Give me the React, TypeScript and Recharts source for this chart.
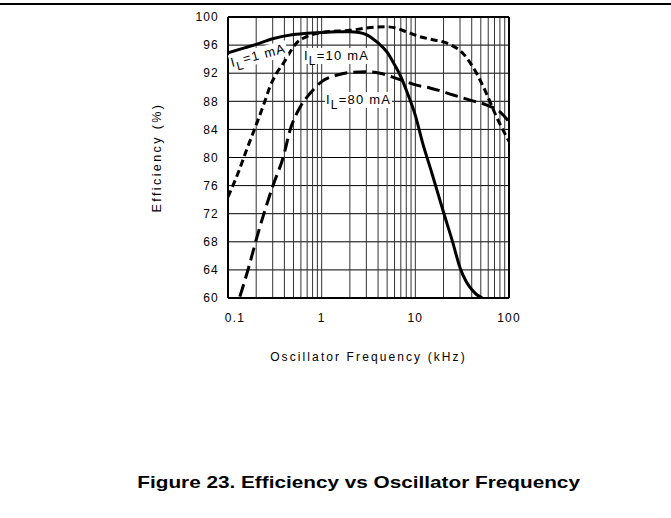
import React from 'react'
import { LineChart, Line, XAxis, YAxis, ReferenceLine } from 'recharts'

// efficiency (%) vs oscillator frequency (kHz)
const FREQ_1MA = [0.1, 0.15, 0.2, 0.3, 0.5, 0.7, 1, 1.5, 2, 2.5, 3, 4, 5, 6, 7, 8, 10, 12, 15, 20, 25, 30, 35, 40, 45, 52]
const EFF_1MA = [94.9, 95.6, 96.1, 96.9, 97.5, 97.7, 97.8, 97.9, 97.9, 97.8, 97.5, 96.3, 95.0, 93.2, 91.5, 89.6, 86.0, 82.0, 77.8, 72.2, 68.0, 64.3, 62.3, 61.2, 60.5, 60]

const FREQ_10MA = [0.1, 0.13, 0.158, 0.194, 0.24, 0.281, 0.33, 0.39, 0.45, 0.54, 0.69, 0.85, 1, 1.5, 2, 3.3, 5, 6.3, 8, 11.2, 15, 21.5, 32.3, 45, 57, 73.5, 100]
const EFF_10MA = [74.4, 78.0, 81.1, 84.2, 87.5, 90.1, 92.0, 93.4, 94.8, 96.3, 97.2, 97.6, 97.8, 98.0, 98.1, 98.5, 98.6, 98.4, 97.9, 97.2, 96.8, 96.3, 94.8, 92.0, 89.2, 85.8, 82.3]

const FREQ_80MA = [0.134, 0.165, 0.202, 0.248, 0.304, 0.39, 0.46, 0.59, 0.75, 1, 1.44, 2, 3, 4.2, 6.8, 10.3, 14.3, 25.4, 40, 57, 80, 100]
const EFF_80MA = [60.2, 64.2, 68.5, 72.5, 76.1, 80.1, 83.9, 87.2, 89.1, 90.8, 91.7, 92.1, 92.2, 92.0, 91.1, 90.3, 89.9, 88.9, 88.1, 87.5, 86.5, 85.1]

const X_TICKS = [0.1, 1, 10, 100]
const Y_TICKS = [60, 64, 68, 72, 76, 80, 84, 88, 92, 96, 100]
const X_GRID = [0.2, 0.3, 0.4, 0.5, 0.6, 0.7, 0.8, 0.9, 1, 2, 3, 4, 5, 6, 7, 8, 9, 10, 20, 30, 40, 50, 60, 70, 80, 90]

const toRows = (fs: number[], es: number[]) => fs.map((f, i) => ({ f, e: es[i] }))

const AXIS_FONT = '"Liberation Sans", Arial, sans-serif'
const tickStyle = { fill: '#000', fontSize: 12, fontFamily: AXIS_FONT, letterSpacing: 1.2 }

function XTick({ x, y, payload }: any) {
  // the 0.1 label sits a bit right of the axis corner
  const dx = payload.value === 0.1 ? 7 : 0
  return (
    <text x={x + dx} y={y} dy="0.71em" textAnchor="middle" {...tickStyle}>
      {String(payload.value)}
    </text>
  )
}

function CurveLabel({ n, style }: { n: string; style: React.CSSProperties }) {
  return (
    <div
      style={{
        position: 'absolute',
        background: '#fff',
        fontFamily: AXIS_FONT,
        fontSize: 13,
        letterSpacing: 1.2,
        lineHeight: '16px',
        padding: '0 1px',
        whiteSpace: 'nowrap',
        ...style,
      }}
    >
      I<sub style={{ fontSize: 12, verticalAlign: '-5px', lineHeight: 0 }}>L</sub>={n} mA
    </div>
  )
}

export default function App() {
  return (
    <div style={{ position: 'absolute', left: 0, top: 0, width: 671, height: 518, background: '#fff' }}>
      <div style={{ position: 'absolute', left: 0, top: 3, width: 671, height: 2, background: '#000' }} />

      <LineChart width={671} height={370} margin={{ top: 17, right: 162, left: 148, bottom: 2 }}>
        <XAxis
          type="number"
          dataKey="f"
          scale="log"
          domain={[0.1, 100]}
          ticks={X_TICKS}
          allowDataOverflow
          axisLine={false}
          tickLine={false}
          tickSize={0}
          tickMargin={15}
          height={70}
          tick={<XTick />}
          label={{
            value: 'Oscillator Frequency (kHz)',
            position: 'insideBottom',
            offset: 7,
            style: { ...tickStyle, letterSpacing: 2.1 },
          }}
        />
        <YAxis
          type="number"
          dataKey="e"
          domain={[60, 100]}
          ticks={Y_TICKS}
          allowDataOverflow
          axisLine={false}
          tickLine={false}
          tickSize={0}
          tickMargin={9}
          width={80}
          tick={tickStyle}
          label={{
            value: 'Efficiency  (%)',
            angle: -90,
            position: 'insideLeft',
            offset: 9,
            style: { ...tickStyle, fontSize: 12.5, letterSpacing: 2.4, textAnchor: 'middle' },
          }}
        />

        {Y_TICKS.map((v) => (
          <ReferenceLine key={'h' + v} y={v} stroke="#000" strokeWidth={1} />
        ))}
        {X_GRID.map((v) => (
          <ReferenceLine key={'v' + v} x={v} stroke="#333" strokeWidth={1} />
        ))}
        <ReferenceLine x={0.1} stroke="#000" strokeWidth={2} />
        <ReferenceLine x={100} stroke="#000" strokeWidth={2} />
        <ReferenceLine y={60} stroke="#000" strokeWidth={2} />
        <ReferenceLine y={100} stroke="#000" strokeWidth={2} />

        <Line
          data={toRows(FREQ_10MA, EFF_10MA)}
          dataKey="e"
          type="monotone"
          stroke="#000"
          strokeWidth={3}
          strokeDasharray="7 4"
          dot={false}
          isAnimationActive={false}
        />
        <Line
          data={toRows(FREQ_80MA, EFF_80MA)}
          dataKey="e"
          type="monotone"
          stroke="#000"
          strokeWidth={3}
          strokeDasharray="13 6"
          dot={false}
          isAnimationActive={false}
        />
        <Line
          data={toRows(FREQ_1MA, EFF_1MA)}
          dataKey="e"
          type="monotone"
          stroke="#000"
          strokeWidth={3}
          dot={false}
          isAnimationActive={false}
        />
      </LineChart>

      <CurveLabel n="1" style={{ left: 232, top: 55, transform: 'rotate(-15deg)', transformOrigin: 'left bottom' }} />
      <CurveLabel n="10" style={{ left: 303, top: 48 }} />
      <CurveLabel n="80" style={{ left: 325, top: 92 }} />

      <div
        style={{
          position: 'absolute',
          left: 0,
          width: 717,
          top: 473,
          textAlign: 'center',
          fontFamily: AXIS_FONT,
          fontWeight: 'bold',
          fontSize: 17,
          transform: 'scaleX(1.22)',
          transformOrigin: '358px 0',
        }}
      >
        Figure 23. Efficiency vs Oscillator Frequency
      </div>
    </div>
  )
}
